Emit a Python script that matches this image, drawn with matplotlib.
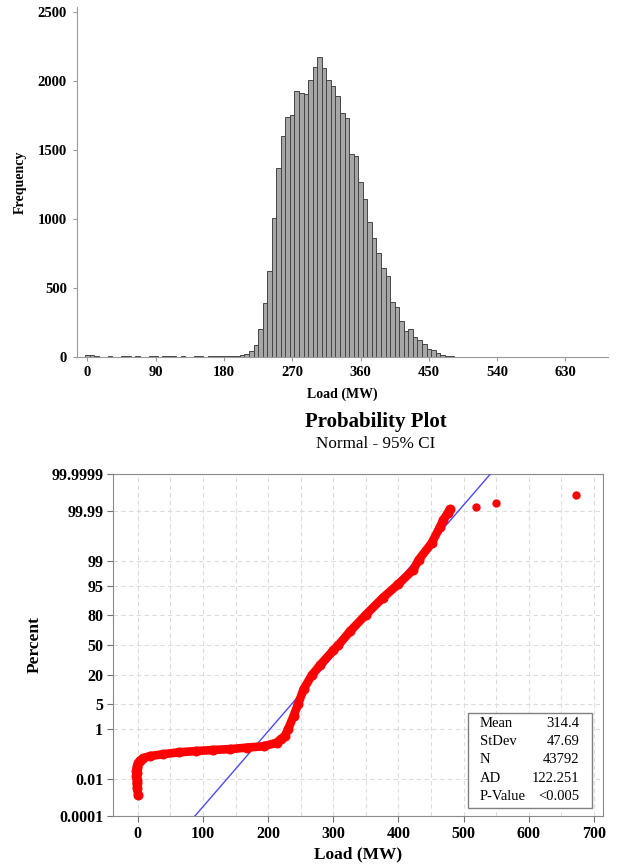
from statistics import NormalDist
import numpy as np
import matplotlib.pyplot as plt
from matplotlib.patches import Rectangle

plt.rcParams['font.family'] = ['Liberation Serif', 'DejaVu Serif']

# histogram: bin centres (MW) and frequencies, bin width 6
bin_centers = list(range(0, 486, 6))
freq = [15, 12, 2, 1, 0, 4, 1, 0, 2, 2, 1, 2, 1, 0, 2, 2, 1, 2, 2, 2, 1, 2, 0, 1,
        4, 2, 1, 2, 4, 2, 2, 4, 3,
        5, 12, 17, 42, 85, 205, 391, 622, 1005, 1372, 1600, 1743, 1755, 1932, 1918,
        1905, 2008, 2106, 2176, 2098, 2008, 1966, 1896, 1768, 1736, 1470, 1460, 1266,
        1145, 978, 862, 755, 642, 586, 400, 363, 261, 189, 199, 145, 121, 90, 54, 49,
        29, 10, 3, 2]
hist_xticks = [0, 90, 180, 270, 360, 450, 540, 630]
hist_yticks = [0, 500, 1000, 1500, 2000, 2500]

# probability plot: points (load MW, percent)
pp_load = [0.5, -1, -1.5, -1, -2, -1.5, -2, -1, -0.5, 1, 3, 8, 18, 39, 64, 90, 116,
           142, 167, 193, 213, 220, 226, 231, 239, 246, 254.5, 267, 280, 300, 308,
           326, 350, 376, 400, 423, 431, 451, 464, 469, 476, 479]
pp_pct = [0.0016, 0.0035, 0.006, 0.009, 0.013, 0.018, 0.024, 0.031, 0.04, 0.05,
          0.065, 0.082, 0.1, 0.12, 0.144, 0.16, 0.177, 0.19, 0.217, 0.244, 0.33,
          0.45, 0.59, 1.0, 2.4, 5, 11, 20, 29, 44, 50, 65, 80, 90.5, 95.5, 98.2,
          99.1, 99.77, 99.95, 99.975, 99.988, 99.992]
out_load = [518.7, 550, 673]
out_pct = [99.9937, 99.9961, 99.9984]

pct_ticks = [0.0001, 0.01, 1, 5, 20, 50, 80, 95, 99, 99.99, 99.9999]
pct_labels = ['0.0001', '0.01', '1', '5', '20', '50', '80', '95', '99', '99.99', '99.9999']
pp_xticks = [0, 100, 200, 300, 400, 500, 600, 700]

mean, stdev = 314.4, 47.69
stats_names = ['Mean', 'StDev', 'N', 'AD', 'P-Value']
stats_vals = ['314.4', '47.69', '43792', '122.251', '<0.005']

nd = NormalDist()
z = lambda p: nd.inv_cdf(p / 100.0)

fig = plt.figure(figsize=(6.3, 8.68), dpi=100)

# ---- histogram ----
ax1 = fig.add_axes([0.1217, 0.589, 0.8433, 0.403])
ax1.bar(bin_centers, freq, width=6, color='#a6a6a6', edgecolor='#454545', linewidth=0.7)
ax1.set_xlim(-14, 686)
ax1.set_ylim(0, 2540)
ax1.set_xticks(hist_xticks)
ax1.set_yticks(hist_yticks)
for s in ['top', 'right']:
    ax1.spines[s].set_visible(False)
for s in ['left', 'bottom']:
    ax1.spines[s].set_color('#9a9a9a')
ax1.tick_params(direction='out', length=3, color='#9a9a9a', labelsize=10.5, pad=4)
for lab in ax1.get_xticklabels() + ax1.get_yticklabels():
    lab.set_fontweight('bold')
ax1.set_ylabel('Frequency', fontsize=10, fontweight='bold', labelpad=8)
ax1.set_xlabel('Load (MW)', fontsize=10, fontweight='bold', labelpad=6)

# ---- probability plot ----
ax2 = fig.add_axes([0.1794, 0.0599, 0.7778, 0.394])
zlo, zhi = z(0.0001), z(99.9999)
ax2.set_xlim(-38, 714)
ax2.set_ylim(zlo, zhi)
ax2.set_yticks([z(p) for p in pct_ticks])
ax2.set_yticklabels(pct_labels)
ax2.set_xticks(pp_xticks)
ax2.set_xticks(np.arange(50, 701, 100), minor=True)
ax2.grid(True, which='both', axis='x', linestyle=(0, (4, 3)), color='#dcdcdc', linewidth=0.8)
ax2.grid(True, which='major', axis='y', linestyle=(0, (4, 3)), color='#dcdcdc', linewidth=0.8)
ax2.set_axisbelow(True)
ax2.tick_params(which='minor', length=0)
ax2.tick_params(direction='out', length=4, color='#707070', labelsize=11.5, pad=3)
for s in ax2.spines.values():
    s.set_color('#8a8a8a')
for lab in ax2.get_xticklabels() + ax2.get_yticklabels():
    lab.set_fontweight('bold')

# fitted normal line
fit_z = np.array([zlo, zhi])
ax2.plot(mean + stdev * fit_z, fit_z, color='#4a4aff', linewidth=1.0, zorder=3)

pz = [z(p) for p in pp_pct]
ax2.plot(pp_load, pz, color='red', linewidth=6.2, marker='o', markersize=6.2,
         solid_capstyle='round', solid_joinstyle='round', zorder=4)
ax2.plot(out_load, [z(p) for p in out_pct], 'o', color='red', markersize=5, zorder=4)

ax2.set_ylabel('Percent', fontsize=12.5, fontweight='bold', labelpad=6)
ax2.set_xlabel('Load (MW)', fontsize=12.5, fontweight='bold', labelpad=3)

# stats box
ax2.add_patch(Rectangle((0.725, 0.0225), 0.253, 0.2795, transform=ax2.transAxes,
                        facecolor='white', edgecolor='#808080', linewidth=1.0, zorder=5))
rows = [0.271, 0.217, 0.164, 0.110, 0.056]
for name, val, yy in zip(stats_names, stats_vals, rows):
    ax2.text(0.749, yy, name, transform=ax2.transAxes, fontsize=10.5, va='center', zorder=6)
    ax2.text(0.9516, yy, val, transform=ax2.transAxes, fontsize=10.5, va='center',
             ha='right', zorder=6)

fig.text(0.597, 0.5142, 'Probability Plot', fontsize=15, fontweight='bold', ha='center', va='center')
fig.text(0.597, 0.4885, 'Normal - 95% CI', fontsize=12.3, ha='center', va='center')

fig.savefig('out.png', dpi=100)
